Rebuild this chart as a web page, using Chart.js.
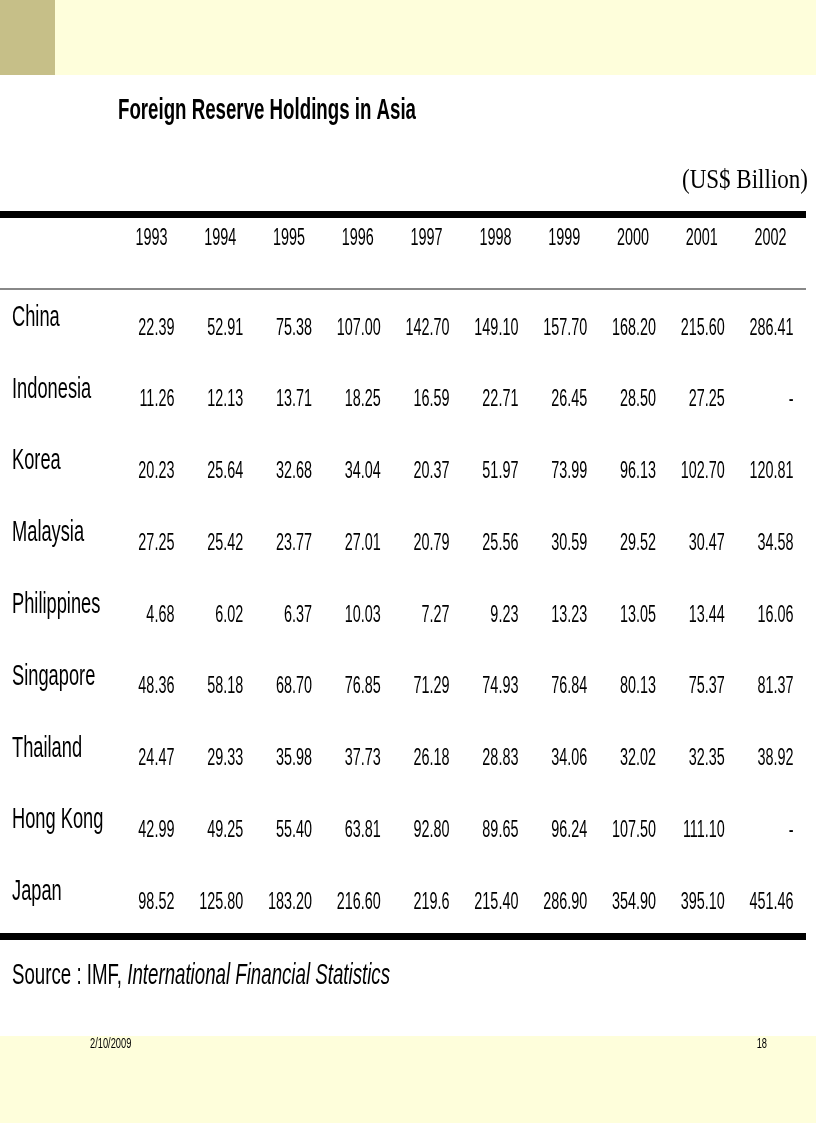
<!DOCTYPE html>
<html><head><meta charset="utf-8">
<script src="https://cdn.jsdelivr.net/npm/chart.js@4/dist/chart.umd.min.js"></script>
<style>html,body{margin:0;padding:0;background:#fff}</style>
</head><body>
<canvas id="tbl" width="816" height="1123" style="width:816px;height:1123px"></canvas>
<script>
// Table data
const years = ['1993', '1994', '1995', '1996', '1997', '1998', '1999', '2000', '2001', '2002'];
const countries = ['China', 'Indonesia', 'Korea', 'Malaysia', 'Philippines', 'Singapore', 'Thailand', 'Hong Kong', 'Japan'];
const china = ['22.39', '52.91', '75.38', '107.00', '142.70', '149.10', '157.70', '168.20', '215.60', '286.41'];
const indonesia = ['11.26', '12.13', '13.71', '18.25', '16.59', '22.71', '26.45', '28.50', '27.25', '-'];
const korea = ['20.23', '25.64', '32.68', '34.04', '20.37', '51.97', '73.99', '96.13', '102.70', '120.81'];
const malaysia = ['27.25', '25.42', '23.77', '27.01', '20.79', '25.56', '30.59', '29.52', '30.47', '34.58'];
const philippines = ['4.68', '6.02', '6.37', '10.03', '7.27', '9.23', '13.23', '13.05', '13.44', '16.06'];
const singapore = ['48.36', '58.18', '68.70', '76.85', '71.29', '74.93', '76.84', '80.13', '75.37', '81.37'];
const thailand = ['24.47', '29.33', '35.98', '37.73', '26.18', '28.83', '34.06', '32.02', '32.35', '38.92'];
const hongKong = ['42.99', '49.25', '55.40', '63.81', '92.80', '89.65', '96.24', '107.50', '111.10', '-'];
const japan = ['98.52', '125.80', '183.20', '216.60', '219.6', '215.40', '286.90', '354.90', '395.10', '451.46'];
const rows = [china, indonesia, korea, malaysia, philippines, singapore, thailand, hongKong, japan];

const SANS = '"Liberation Sans", Arial, sans-serif';

// draw text squeezed horizontally (the original uses a narrow face)
function squeezed(c, s, x, y, font, sx, align) {
    c.save();
    c.font = font;
    c.textAlign = align || 'left';
    c.translate(x, y);
    c.scale(sx, 1);
    c.fillText(s, 0, 0);
    c.restore();
}
function fitted(c, s, x, y, font, width, align) {
    c.font = font;
    squeezed(c, s, x, y, font, width / c.measureText(s).width, align);
}

const tablePlugin = {
    id: 'tablePlugin',
    beforeDraw(chart) {
        const c = chart.ctx;
        c.save();
        c.fillStyle = '#fefedb';
        c.fillRect(0, 0, 816, 75);
        c.fillRect(0, 1036, 816, 87);
        c.fillStyle = '#c6bf88';
        c.fillRect(0, 0, 55, 75);
        c.restore();
    },
    afterDraw(chart) {
        const c = chart.ctx;
        const x = chart.scales.x, y = chart.scales.y, area = chart.chartArea;
        c.save();
        c.fillStyle = '#000';
        c.textBaseline = 'middle';
        fitted(c, 'Foreign Reserve Holdings in Asia', 118, 111, 'bold 30px ' + SANS, 298);
        fitted(c, '(US$ Billion)', 808, 181, '28px "Liberation Serif", serif', 126, 'right');
        // rules
        c.fillRect(0, 211, 806, 7);
        c.fillRect(0, area.bottom - 3, 806, 7);
        c.fillStyle = '#888';
        c.fillRect(0, area.top - 2, 806, 2);
        c.fillStyle = '#000';
        // header
        years.forEach((yr, i) => squeezed(c, yr, x.getPixelForValue(i) - 1, 238, '24px ' + SANS, 0.6, 'center'));
        // rows
        countries.forEach((name, j) => {
            const py = y.getPixelForValue(j);
            squeezed(c, name, 12, py - 8, '29px ' + SANS, 0.63, 'left');
            rows[j].forEach((v, i) => squeezed(c, v, x.getPixelForValue(i) + 22, py + 2, '24px ' + SANS, 0.6, 'right'));
        });
        // source & footer
        c.font = '29px ' + SANS;
        const w1 = c.measureText('Source : IMF, ').width;
        c.font = 'italic 29px ' + SANS;
        const w2 = c.measureText('International Financial Statistics').width;
        const k = 378 / (w1 + w2);
        squeezed(c, 'Source : IMF, ', 12, 976, '29px ' + SANS, k);
        squeezed(c, 'International Financial Statistics', 12 + w1 * k, 976, 'italic 29px ' + SANS, k);
        squeezed(c, '2/10/2009', 90, 1044, '15px ' + SANS, 0.62);
        squeezed(c, '18', 767, 1044, '15px ' + SANS, 0.62, 'right');
        c.restore();
    }
};

new Chart(document.getElementById('tbl').getContext('2d'), {
    type: 'bar',
    data: { labels: years, datasets: [{ data: [], yAxisID: 'y' }] },
    options: {
        responsive: false,
        animation: false,
        layout: { padding: { left: 118, right: 10, top: 290, bottom: 187 } },
        scales: {
            x: { type: 'category', labels: years, display: false, offset: true },
            y: { type: 'category', labels: countries, display: false, offset: true }
        },
        plugins: { legend: { display: false }, tooltip: { enabled: false } }
    },
    plugins: [tablePlugin]
});
</script>
</body></html>
